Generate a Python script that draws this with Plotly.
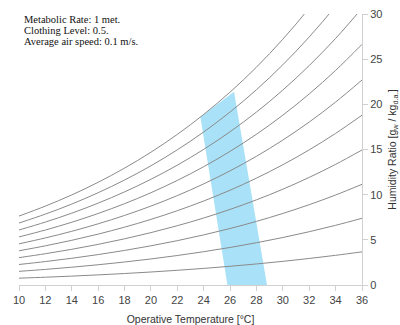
import plotly.graph_objects as go

# Operative temperature grid [°C]
temps = [10, 12, 14, 16, 18, 20, 22, 24, 26, 28, 30, 32, 34, 36]

# Humidity ratio [g_w / kg_da] along each relative-humidity line (10 % ... 100 %)
rh_10 = [0.755, 0.862, 0.983, 1.119, 1.270, 1.439, 1.628, 1.838, 2.071, 2.330, 2.618, 2.936, 3.286, 3.671]
rh_20 = [1.511, 1.727, 1.969, 2.241, 2.546, 2.885, 3.264, 3.686, 4.156, 4.678, 5.258, 5.899, 6.607, 7.386]
rh_30 = [2.270, 2.595, 2.959, 3.368, 3.826, 4.338, 4.909, 5.546, 6.256, 7.044, 7.921, 8.891, 9.964, 11.145]
rh_40 = [3.030, 3.464, 3.951, 4.499, 5.112, 5.797, 6.563, 7.417, 8.369, 9.427, 10.606, 11.912, 13.356, 14.948]
rh_50 = [3.792, 4.336, 4.947, 5.634, 6.403, 7.263, 8.226, 9.299, 10.496, 11.829, 13.315, 14.961, 16.785, 18.799]
rh_60 = [4.556, 5.211, 5.946, 6.773, 7.700, 8.736, 9.897, 11.192, 12.638, 14.249, 16.046, 18.040, 20.252, 22.695]
rh_70 = [5.322, 6.088, 6.948, 7.916, 9.002, 10.216, 11.577, 13.097, 14.795, 16.688, 18.801, 21.149, 23.756, 26.640]
rh_80 = [6.090, 6.967, 7.953, 9.063, 10.309, 11.703, 13.266, 15.013, 16.966, 19.145, 21.580, 24.289, 27.298, 30.633]
rh_90 = [6.859, 7.849, 8.961, 10.215, 11.622, 13.197, 14.965, 16.941, 19.152, 21.621, 24.384, 27.459, 30.880, 34.676]
rh_100 = [7.631, 8.734, 9.973, 11.370, 12.940, 14.698, 16.672, 18.880, 21.353, 24.116, 27.211, 30.660, 34.502, 38.769]

rh_lines = [rh_10, rh_20, rh_30, rh_40, rh_50, rh_60, rh_70, rh_80, rh_90, rh_100]

# Comfort zone outline (operative temperature, humidity ratio)
zone_t = [25.8, 28.8, 26.3, 23.75, 25.8]
zone_w = [0.0, 0.0, 21.4, 18.6, 0.0]

x_ticks = list(range(10, 37, 2))
y_ticks = [0, 5, 10, 15, 20, 25, 30]

info_lines = ["Metabolic Rate: 1 met.", "Clothing Level: 0.5.", "Average air speed: 0.1 m/s."]

fig = go.Figure()

fig.add_trace(go.Scatter(
    x=zone_t, y=zone_w, mode="lines", fill="toself",
    fillcolor="#a9e2f8", line=dict(width=0, color="#a9e2f8"),
    hoverinfo="skip", showlegend=False,
))

for w in rh_lines:
    fig.add_trace(go.Scatter(
        x=temps, y=w, mode="lines", line=dict(color="#8a8a8a", width=1, shape="spline"),
        showlegend=False, hoverinfo="skip",
    ))

for i, txt in enumerate(info_lines):
    fig.add_annotation(
        x=0, y=1, xref="paper", yref="paper", xanchor="left", yanchor="middle",
        xshift=3, yshift=-5 - 11 * i, align="left", showarrow=False, text=txt,
        font=dict(family="Liberation Serif, Times New Roman, serif", size=10.5, color="#111111"),
    )

fig.update_layout(
    width=400, height=325,
    margin=dict(l=19, r=38, t=14, b=40),
    paper_bgcolor="white", plot_bgcolor="white",
    font=dict(family="Liberation Sans, Arial, sans-serif", size=11, color="#444444"),
    xaxis=dict(
        range=[10, 36], tickvals=x_ticks, showgrid=False, zeroline=False, automargin=False,
        showline=True, linecolor="#d0d0d0", linewidth=1,
        ticks="outside", ticklen=5, tickcolor="#d0d0d0",
        tickfont=dict(size=11, color="#444444"),
        title=dict(text="Operative Temperature [°C]", font=dict(size=10.5, color="#333333")),
    ),
    yaxis=dict(
        range=[0, 30], tickvals=y_ticks, side="right", showgrid=False, zeroline=False, automargin=False,
        showline=True, linecolor="#d0d0d0", linewidth=1,
        ticks="outside", ticklen=5, tickcolor="#d0d0d0",
        tickfont=dict(size=11, color="#444444"),
        title=dict(text="Humidity Ratio [g<sub>w</sub> / kg<sub>d.a.</sub>]",
                   font=dict(size=10.5, color="#333333")),
    ),
)

fig.write_html("out.html")
